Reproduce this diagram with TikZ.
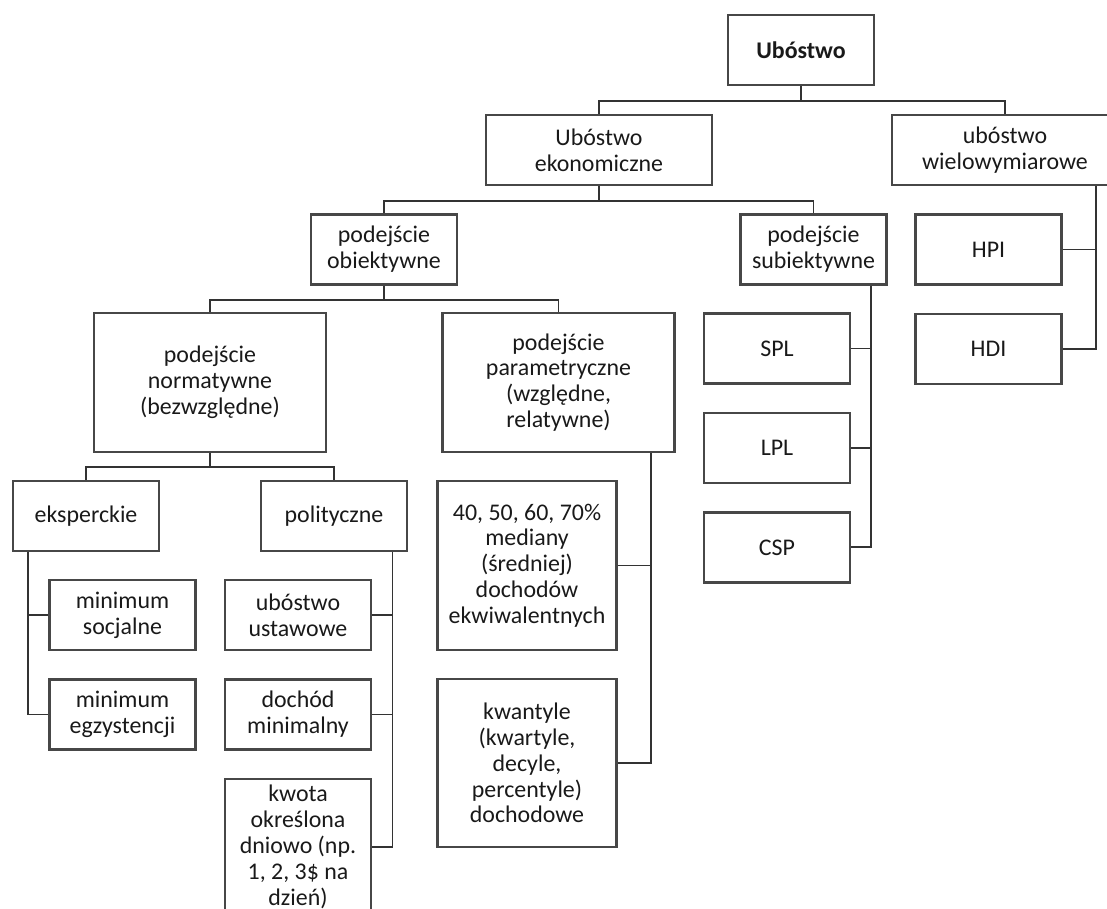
\documentclass[tikz,border=0pt]{standalone}
\usepackage{fontspec}
\setmainfont{Carlito}
\usetikzlibrary{positioning}
\tikzset{
x=0.02cm, y=-0.02cm, % one unit is one pixel of the page, y goes down
node distance=1.99cm, % distance between the centres of stacked boxes
box/.style={draw=black!72, line width=1.2pt, align=center, inner sep=0pt, text=black!90,
  font=\fontsize{13.6}{14.7}\selectfont, minimum width=2.92cm, minimum height=1.4cm}, % every box of the tree
wide/.style={minimum width=4.52cm}, % boxes of the second level
tall/.style={minimum width=4.64cm, minimum height=2.78cm}, % the two approaches
link/.style={draw=black!80, line width=1.1pt}, % the connecting lines
}

\begin{document}
\begin{tikzpicture}
                \useasboundingbox (0,0) rectangle (1107,909);
                \clip (0,0) rectangle (1107,909);
                % boxes
                \node[box] (root) at (801,50) {\textbf{Ubóstwo}};
                \node[box, wide] (econ) at (599,150) {Ubóstwo\\ekonomiczne};
                \node[box, wide] (multi) at (1005,150) {ubóstwo\\wielowymiarowe};
                \node[box] (obj) at (384,249.5) {podejście\\obiektywne};
                \node[box] (subj) at (813.5,249.5) {podejście\\subiektywne};
                \node[box] (hpi) at (988.5,249.5) {HPI};
                \node[box, below of=hpi] (hdi) {HDI};
                \node[box] (spl) at (777,348.5) {SPL};
                \node[box, below of=spl] (lpl) {LPL};
                \node[box, below of=lpl] (csp) {CSP};
                \node[box, tall] (norm) at (210,382.5) {podejście\\normatywne\\(bezwzględne)};
                \node[box, tall] (param) at (558.5,382.5) {podejście\\parametryczne\\(względne,\\relatywne)};
                \node[box] (expert) at (86,516) {eksperckie};
                \node[box] (polit) at (334,516) {polityczne};
                \node[box] (minsoc) at (122.5,615) {minimum\\socjalne};
                \node[box, below of=minsoc] (minegz) {minimum\\egzystencji};
                \node[box] (ustaw) at (298,615) {ubóstwo\\ustawowe};
                \node[box, below of=ustaw] (dochod) {dochód\\minimalny};
                \node[box, minimum height=2.72cm] (kwota) at (298,847) {kwota\\określona\\dniowo (np.\\1, 2, 3\$ na\\dzień)};
                \node[box, minimum width=3.58cm, minimum height=3.38cm] (med) at (527,565.5)
                    {40, 50, 60, 70\%\\mediany\\(średniej)\\dochodów\\ekwiwalentnych};
                \node[box, minimum width=3.58cm, minimum height=3.36cm] (kwant) at (527,763)
                    {kwantyle\\(kwartyle,\\decyle,\\percentyle)\\dochodowe};
                % tree links
                \draw[link] (root.south) -- ++(0,15) -| (econ.north);
                \draw[link] (root.south) -- ++(0,15) -| (multi.north);
                \draw[link] (econ.south) -- ++(0,15) -| (obj.north);
                \draw[link] (econ.south) -- ++(0,15) -| (subj.north);
                \draw[link] (obj.south) -- ++(0,14) -| (norm.north);
                \draw[link] (obj.south) -- ++(0,14) -| (param.north);
                \draw[link] (norm.south) -- ++(0,14) -| (expert.north);
                \draw[link] (norm.south) -- ++(0,14) -| (polit.north);
                % side links
                \foreach \c in {minsoc,minegz} \draw[link] (expert.south -| 28,0) |- (\c.west);
                \foreach \c in {ustaw,dochod,kwota} \draw[link] (polit.south -| 392.5,0) |- (\c.east);
                \foreach \c in {med,kwant} \draw[link] (param.south -| 651,0) |- (\c.east);
                \foreach \c in {spl,lpl,csp} \draw[link] (subj.south -| 871,0) |- (\c.east);
                \foreach \c in {hpi,hdi} \draw[link] (multi.south -| 1096,0) |- (\c.east);
                \end{tikzpicture}
\end{document}
